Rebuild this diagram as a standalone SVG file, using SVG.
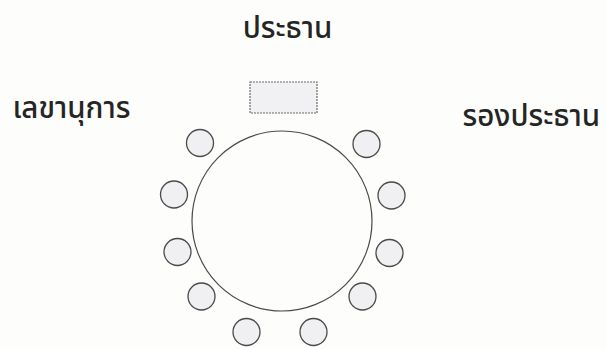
<svg xmlns="http://www.w3.org/2000/svg" width="606" height="349" viewBox="0 0 606 349">
  <style>
    .lbl { font-family: "Noto Sans Thai", "Noto Sans", "DejaVu Sans", sans-serif; font-size: 29.5px; font-weight: 500; fill: #252525; }
    .seat { fill: #f0eff2; stroke: #4a4a4a; stroke-width: 1.3; }
    .table { fill: none; stroke: #4a4a4a; stroke-width: 1.2; }
    .chair { fill: #f1f0f2; stroke: #6a6a6a; stroke-width: 1.2; stroke-dasharray: 2 1; }
  </style>
  <rect x="0" y="0" width="606" height="349" fill="#fdfdfb"/>
  <g id="label-chair"><text class="lbl" x="287.5" y="38" text-anchor="middle">ประธาน</text></g>
  <g id="label-secretary"><text class="lbl" x="12.5" y="118">เลขานุการ</text></g>
  <g id="label-vice"><text class="lbl" x="462.5" y="125.5">รองประธาน</text></g>
  <g id="chair-seat"><rect class="chair" x="250" y="82" width="67" height="31"/></g>
  <g id="table"><circle class="table" cx="282" cy="221" r="90"/></g>
  <g id="seats">
    <g id="seat-1"><circle class="seat" cx="200" cy="143" r="13.5"/></g>
    <g id="seat-2"><circle class="seat" cx="366.5" cy="144" r="13.5"/></g>
    <g id="seat-3"><circle class="seat" cx="174" cy="194.5" r="13.5"/></g>
    <g id="seat-4"><circle class="seat" cx="391.5" cy="195.5" r="13.5"/></g>
    <g id="seat-5"><circle class="seat" cx="177.5" cy="252" r="13.5"/></g>
    <g id="seat-6"><circle class="seat" cx="389.5" cy="253" r="13.5"/></g>
    <g id="seat-7"><circle class="seat" cx="201.5" cy="296.5" r="13.5"/></g>
    <g id="seat-8"><circle class="seat" cx="362.5" cy="296.5" r="13.5"/></g>
    <g id="seat-9"><circle class="seat" cx="246.5" cy="332" r="13.5"/></g>
    <g id="seat-10"><circle class="seat" cx="313.5" cy="332" r="13.5"/></g>
  </g>
  <g id="connectors"></g>
</svg>
